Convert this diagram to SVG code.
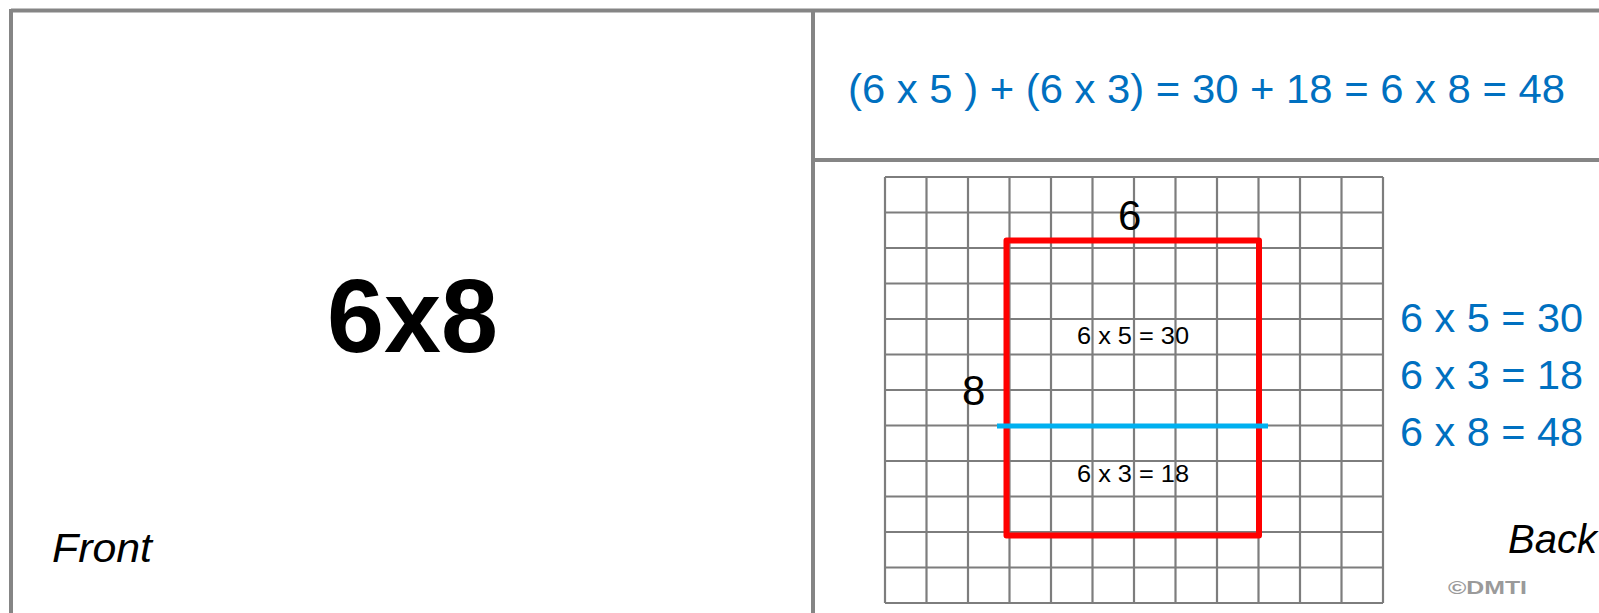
<svg xmlns="http://www.w3.org/2000/svg" width="1599" height="613" viewBox="0 0 1599 613">
  <style>
    .border { stroke: #858585; stroke-width: 4; fill: none; }
    .grid line { stroke: #7d7d7d; stroke-width: 2.2; }
    .blue { fill: #0070C0; font-family: "Liberation Sans", Arial, sans-serif; font-size: 40px; }
    .blk { fill: #000; font-family: "Liberation Sans", Arial, sans-serif; }
  </style>
  <rect width="1599" height="613" fill="#ffffff"/>

  <g id="frame">
    <line class="border" x1="11" y1="10.5" x2="1599" y2="10.5"/>
    <line class="border" x1="11" y1="9" x2="11" y2="613"/>
    <line class="border" x1="813" y1="10" x2="813" y2="613"/>
    <line class="border" x1="813" y1="160" x2="1599" y2="160"/>
  </g>

  <g id="front">
    <text class="blk" x="327" y="352" font-size="103" font-weight="bold" textLength="171" lengthAdjust="spacingAndGlyphs">6x8</text>
    <text class="blk" x="52" y="562" font-size="40" font-style="italic" textLength="100" lengthAdjust="spacingAndGlyphs">Front</text>
  </g>

  <g id="equation">
    <text class="blue" x="848" y="103" textLength="717" lengthAdjust="spacingAndGlyphs">(6 x 5 ) + (6 x 3) = 30 + 18 = 6 x 8 = 48</text>
  </g>

  <g id="grid" class="grid">
    <line x1="885" y1="177" x2="885" y2="603"/>
    <line x1="926.5" y1="177" x2="926.5" y2="603"/>
    <line x1="968" y1="177" x2="968" y2="603"/>
    <line x1="1009.5" y1="177" x2="1009.5" y2="603"/>
    <line x1="1051" y1="177" x2="1051" y2="603"/>
    <line x1="1092.5" y1="177" x2="1092.5" y2="603"/>
    <line x1="1134" y1="177" x2="1134" y2="603"/>
    <line x1="1175.5" y1="177" x2="1175.5" y2="603"/>
    <line x1="1217" y1="177" x2="1217" y2="603"/>
    <line x1="1258.5" y1="177" x2="1258.5" y2="603"/>
    <line x1="1300" y1="177" x2="1300" y2="603"/>
    <line x1="1341.5" y1="177" x2="1341.5" y2="603"/>
    <line x1="1383" y1="177" x2="1383" y2="603"/>
    <line x1="885" y1="177" x2="1383" y2="177"/>
    <line x1="885" y1="212.5" x2="1383" y2="212.5"/>
    <line x1="885" y1="248" x2="1383" y2="248"/>
    <line x1="885" y1="283.5" x2="1383" y2="283.5"/>
    <line x1="885" y1="319" x2="1383" y2="319"/>
    <line x1="885" y1="354.5" x2="1383" y2="354.5"/>
    <line x1="885" y1="390" x2="1383" y2="390"/>
    <line x1="885" y1="425.5" x2="1383" y2="425.5"/>
    <line x1="885" y1="461" x2="1383" y2="461"/>
    <line x1="885" y1="496.5" x2="1383" y2="496.5"/>
    <line x1="885" y1="532" x2="1383" y2="532"/>
    <line x1="885" y1="567.5" x2="1383" y2="567.5"/>
    <line x1="885" y1="603" x2="1383" y2="603"/>
  </g>

  <g id="array">
    <rect x="1006.5" y="240.5" width="252.5" height="295" fill="none" stroke="#FF0000" stroke-width="6" stroke-linejoin="round"/>
    <line x1="997" y1="426" x2="1268" y2="426" stroke="#00B0F0" stroke-width="5"/>
    <text class="blk" x="1118" y="230" font-size="42">6</text>
    <text class="blk" x="962" y="405" font-size="42">8</text>
    <text class="blk" x="1077" y="344" font-size="24" textLength="112" lengthAdjust="spacingAndGlyphs">6 x 5 = 30</text>
    <text class="blk" x="1077" y="482" font-size="24" textLength="112" lengthAdjust="spacingAndGlyphs">6 x 3 = 18</text>
  </g>

  <g id="facts">
    <text class="blue" x="1400" y="332" textLength="183" lengthAdjust="spacingAndGlyphs">6 x 5 = 30</text>
    <text class="blue" x="1400" y="389" textLength="183" lengthAdjust="spacingAndGlyphs">6 x 3 = 18</text>
    <text class="blue" x="1400" y="446" textLength="183" lengthAdjust="spacingAndGlyphs">6 x 8 = 48</text>
  </g>

  <g id="back">
    <text class="blk" x="1508" y="553" font-size="40" font-style="italic">Back</text>
    <text x="1448" y="594" font-family="Liberation Sans, Arial, sans-serif" font-size="19" font-weight="bold" fill="#9a9a9a" textLength="79" lengthAdjust="spacingAndGlyphs">©DMTI</text>
  </g>

  <g id="connectors"></g>
</svg>
